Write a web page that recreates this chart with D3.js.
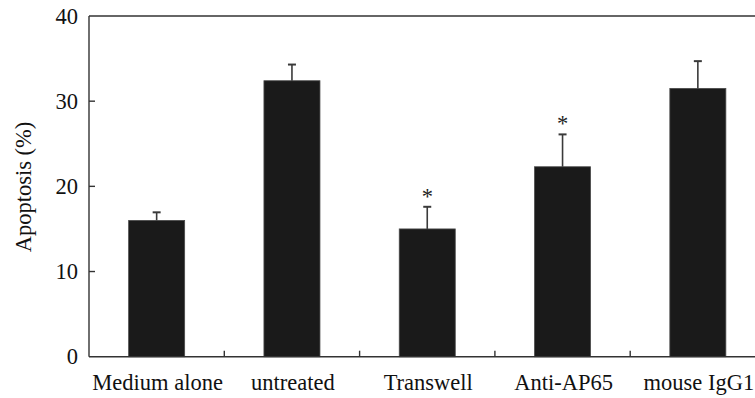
<!DOCTYPE html>
<html>
<head>
<meta charset="utf-8">
<script src="https://cdn.jsdelivr.net/npm/d3@7"></script>
<style>
  body { margin: 0; background: #fff; }
  svg { display: block; font-family: "Liberation Serif", "Times New Roman", serif; }
</style>
</head>
<body>
<script>
// chart size
var width = 755;
var height = 398;

// data
var categories = ['Medium alone', 'untreated', 'Transwell', 'Anti-AP65', 'mouse IgG1'];
var values = [16.0, 32.4, 15.0, 22.3, 31.5];
var errors = [0.95, 1.9, 2.6, 3.8, 3.2];
var marked = [false, false, true, true, false];
var yTicks = [0, 10, 20, 30, 40];

var plotLeft = 89, plotTop = 16, plotRight = 765.5, plotBottom = 356.7;
var fontSize = 22.5;

var x = d3.scaleBand()
          .domain(categories)
          .range([plotLeft, plotRight])
          .paddingInner(0.586)
          .paddingOuter(0.293);

var y = d3.scaleLinear()
          .domain([0, 40])
          .range([plotBottom, plotTop]);

var svg = d3.select('body')
            .append('svg')
            .attr('width', width)
            .attr('height', height);

function cx(i) {
  return x(categories[i]) + x.bandwidth() / 2;
}

// bars
svg.selectAll('rect.bar')
   .data(values)
   .enter()
   .append('rect')
   .attr('class', 'bar')
   .attr('x', function(d, i){ return x(categories[i]); })
   .attr('y', function(d){ return y(d); })
   .attr('width', x.bandwidth())
   .attr('height', function(d){ return y(0) - y(d); })
   .attr('fill', '#1a1a1a')
   .attr('stroke', '#4a4a4a')
   .attr('stroke-width', 0.8);

// error bars (upper only)
var err = svg.selectAll('g.err')
             .data(values)
             .enter()
             .append('g')
             .attr('class', 'err')
             .attr('stroke', '#3a3a3a')
             .attr('stroke-width', 1.6);

err.append('line')
   .attr('x1', function(d, i){ return cx(i); })
   .attr('x2', function(d, i){ return cx(i); })
   .attr('y1', function(d){ return y(d); })
   .attr('y2', function(d, i){ return y(d + errors[i]); });

err.append('line')
   .attr('x1', function(d, i){ return cx(i) - 4; })
   .attr('x2', function(d, i){ return cx(i) + 4; })
   .attr('y1', function(d, i){ return y(d + errors[i]); })
   .attr('y2', function(d, i){ return y(d + errors[i]); })
   .attr('stroke-width', 2);

// significance marks
var starIdx = d3.range(values.length).filter(function(i){ return marked[i]; });
svg.selectAll('text.star')
   .data(starIdx)
   .enter()
   .append('text')
   .attr('class', 'star')
   .attr('x', function(i){ return cx(i); })
   .attr('y', function(i){ return y(values[i] + errors[i]) - 3; })
   .attr('text-anchor', 'middle')
   .attr('font-size', fontSize)
   .attr('fill', '#222')
   .text('*');

// frame lines
var axisColor = '#333';
svg.append('line')
   .attr('x1', plotLeft).attr('x2', plotLeft)
   .attr('y1', plotTop).attr('y2', plotBottom)
   .attr('stroke', axisColor).attr('stroke-width', 1.4);
svg.append('line')
   .attr('x1', plotLeft).attr('x2', plotRight)
   .attr('y1', plotBottom).attr('y2', plotBottom)
   .attr('stroke', axisColor).attr('stroke-width', 1.4);
svg.append('line')
   .attr('x1', plotLeft).attr('x2', plotRight)
   .attr('y1', plotTop).attr('y2', plotTop)
   .attr('stroke', axisColor).attr('stroke-width', 1.4);

// y ticks (inward)
var yAxis = svg.append('g');
yAxis.selectAll('line')
     .data(yTicks.slice(1, -1))
     .enter()
     .append('line')
     .attr('x1', plotLeft).attr('x2', plotLeft + 6)
     .attr('y1', function(d){ return y(d); })
     .attr('y2', function(d){ return y(d); })
     .attr('stroke', axisColor).attr('stroke-width', 1.4);
yAxis.selectAll('text')
     .data(yTicks)
     .enter()
     .append('text')
     .attr('x', plotLeft - 11)
     .attr('y', function(d){ return y(d); })
     .attr('dy', '0.34em')
     .attr('text-anchor', 'end')
     .attr('font-size', fontSize)
     .attr('fill', '#111')
     .text(function(d){ return d; });

// x ticks at category boundaries (inward)
var bounds = categories.slice(1).map(function(c){ return x(c) - x.step() * x.paddingInner() / 2; });
svg.selectAll('line.xtick')
   .data(bounds)
   .enter()
   .append('line')
   .attr('class', 'xtick')
   .attr('x1', function(d){ return d; })
   .attr('x2', function(d){ return d; })
   .attr('y1', plotBottom).attr('y2', plotBottom - 6)
   .attr('stroke', axisColor).attr('stroke-width', 1.4);

svg.selectAll('text.xlab')
   .data(categories)
   .enter()
   .append('text')
   .attr('class', 'xlab')
   .attr('x', function(d){ return x(d) + x.bandwidth() / 2 + 1; })
   .attr('y', 390)
   .attr('text-anchor', 'middle')
   .attr('font-size', fontSize)
   .attr('fill', '#111')
   .text(function(d){ return d; });

// y title
svg.append('text')
   .attr('transform', 'translate(31, 187) rotate(-90)')
   .attr('text-anchor', 'middle')
   .attr('font-size', fontSize)
   .attr('fill', '#111')
   .text('Apoptosis (%)');
</script>
</body>
</html>
